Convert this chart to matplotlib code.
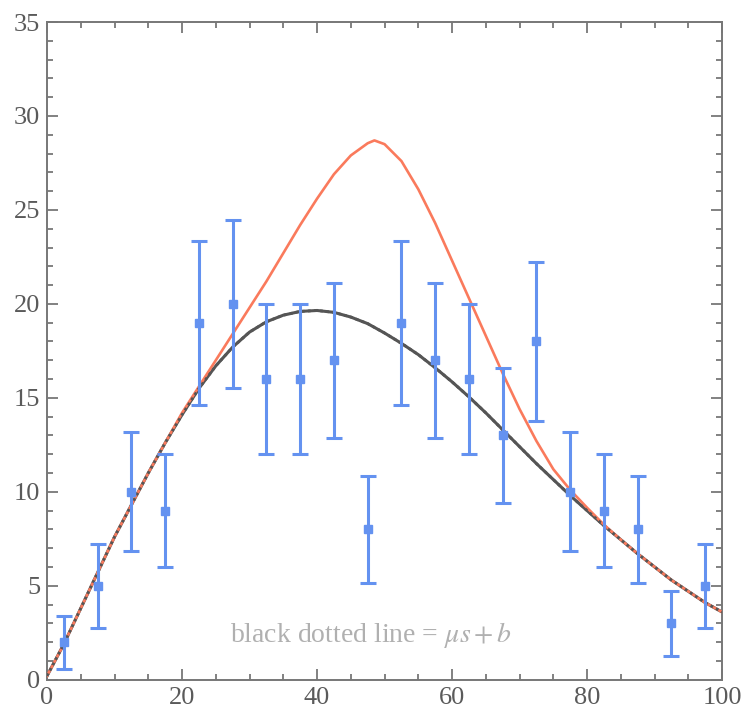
import matplotlib.pyplot as plt
from matplotlib.ticker import MultipleLocator

plt.rcParams['font.family'] = ['Liberation Serif', 'DejaVu Serif']
plt.rcParams['mathtext.fontset'] = 'stix'

# binned data with errors
bin_x = [2.5, 7.5, 12.5, 17.5, 22.5, 27.5, 32.5, 37.5, 42.5, 47.5,
         52.5, 57.5, 62.5, 67.5, 72.5, 77.5, 82.5, 87.5, 92.5, 97.5]
counts = [2, 5, 10, 9, 19, 20, 16, 16, 17, 8,
          19, 17, 16, 13, 18, 10, 9, 8, 3, 5]
errs = [1.41, 2.24, 3.16, 3.0, 4.36, 4.47, 4.0, 4.0, 4.12, 2.83,
        4.36, 4.12, 4.0, 3.61, 4.24, 3.16, 3.0, 2.83, 1.73, 2.24]

# curves
curve_x = [0, 2.5, 5, 7.5, 10, 12.5, 15, 17.5, 20, 22.5, 25, 27.5, 30, 32.5,
           35, 37.5, 40, 42.5, 45, 47.5, 48.5, 50, 52.5, 55, 57.5, 60, 62.5,
           65, 67.5, 70, 72.5, 75, 77.5, 80, 82.5, 85, 87.5, 90, 92.5, 95,
           97.5, 100]
bkg = [0.2, 1.9, 3.8, 5.7, 7.6, 9.3, 11.0, 12.6, 14.1, 15.5, 16.7, 17.7, 18.5,
       19.05, 19.4, 19.6, 19.65, 19.55, 19.3, 18.95, 18.75, 18.45, 17.9, 17.3,
       16.6, 15.85, 15.05, 14.2, 13.3, 12.4, 11.5, 10.65, 9.8, 9.0, 8.2, 7.45,
       6.7, 6.0, 5.3, 4.7, 4.1, 3.6]
sig_bkg = [0.2, 1.9, 3.8, 5.7, 7.6, 9.3, 11.0, 12.6, 14.2, 15.6, 17.0, 18.4,
           19.8, 21.2, 22.7, 24.2, 25.6, 26.9, 27.9, 28.55, 28.7, 28.5, 27.6,
           26.1, 24.3, 22.3, 20.3, 18.3, 16.3, 14.4, 12.7, 11.2, 10.1, 9.15,
           8.25, 7.45, 6.7, 6.0, 5.3, 4.7, 4.1, 3.6]

fig = plt.figure(figsize=(7.46, 7.11), dpi=100)
ax = fig.add_axes([0.063, 0.044, 0.905, 0.925])

blue = '#6492f0'
gray = '#555555'
red = '#fa7a5c'

ax.plot(curve_x, bkg, color=gray, lw=2.2, zorder=2)
ax.plot(curve_x, sig_bkg, color=red, lw=1.9, zorder=3)
ax.plot(curve_x, bkg, color=gray, lw=2.0, ls=(0, (1, 1.2)), zorder=4)

ax.errorbar(bin_x, counts, yerr=errs, fmt='s', color=blue, ms=6,
            elinewidth=2.2, capsize=6, capthick=2.2, zorder=5)

ax.text(48, 2.4, r'black dotted line = $\mu s + b$', color='#b0b0b0',
        fontsize=20, ha='center', va='center')

ax.set_xlim(0, 100)
ax.set_ylim(0, 35)
ax.xaxis.set_major_locator(MultipleLocator(20))
ax.xaxis.set_minor_locator(MultipleLocator(5))
ax.yaxis.set_major_locator(MultipleLocator(5))
ax.yaxis.set_minor_locator(MultipleLocator(1))
ax.tick_params(which='both', direction='in', top=True, right=True,
               color='#777777', width=1.3, labelsize=19, labelcolor='#5a5a5a')
ax.tick_params(which='major', length=8, pad=5)
ax.tick_params(which='minor', length=4.5)
for s in ax.spines.values():
    s.set_color('#777777')
    s.set_linewidth(1.4)

fig.savefig('out.png', dpi=100)
